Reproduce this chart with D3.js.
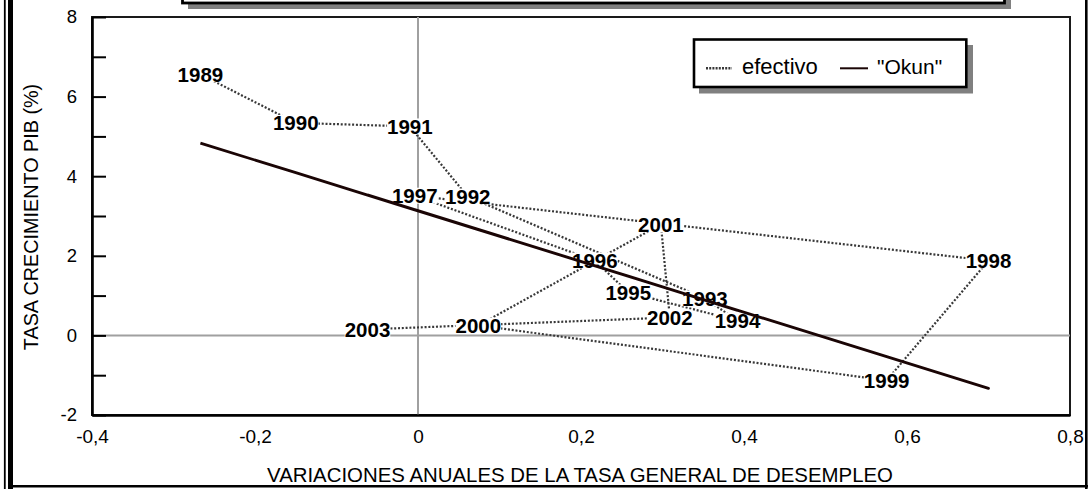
<!DOCTYPE html>
<html><head><meta charset="utf-8">
<script src="https://cdn.jsdelivr.net/npm/d3@7"></script>
<style>
body{margin:0;background:#fff}
svg{display:block}
text{font-family:"Liberation Sans",Arial,sans-serif;fill:#000}
</style>
</head><body>
<svg id="c" width="1089" height="489"></svg>
<script>
// ---- data ----
const years = ["1989","1990","1991","1992","1993","1994","1995","1996","1997","1998","1999","2000","2001","2002","2003"];
const desempleo = [-0.267, -0.150, -0.010, 0.061, 0.352, 0.392, 0.258, 0.217, -0.004, 0.700, 0.575, 0.074, 0.298, 0.309, -0.062];
const pibEfectivo = [6.56, 5.34, 5.25, 3.49, 0.93, 0.37, 1.08, 1.88, 3.51, 1.88, -1.13, 0.25, 2.79, 0.45, 0.15];
const pibOkun = [4.83, 4.09, 3.19, 2.74, 0.89, 0.63, 1.49, 1.75, 3.16, -1.33, -0.53, 2.66, 1.23, 1.16, 3.53];
const xTicks = [-0.4, -0.2, 0, 0.2, 0.4, 0.6, 0.8];
const yTicks = [-2, -1, 0, 1, 2, 3, 4, 5, 6, 7, 8];
const seriesNames = ["efectivo", "\"Okun\""];
const xTitle = "VARIACIONES ANUALES DE LA TASA GENERAL DE DESEMPLEO";
const yTitle = "TASA CRECIMIENTO PIB (%)";

const svg = d3.select("#c");
const L = 92, R = 1070, T = 17, B = 415;
const x = d3.scaleLinear().domain([-0.4, 0.8]).range([L, R]);
const y = d3.scaleLinear().domain([-2, 8]).range([B, T]);

// ---- outer chart frame ----
svg.append("line").attr("x1",4.8).attr("x2",4.8).attr("y1",0).attr("y2",489).attr("stroke","#000").attr("stroke-width",1.8);
svg.append("line").attr("x1",10.5).attr("x2",10.5).attr("y1",0).attr("y2",489).attr("stroke","#000").attr("stroke-width",5);
svg.append("line").attr("x1",8).attr("x2",1088).attr("y1",486.3).attr("y2",486.3).attr("stroke","#000").attr("stroke-width",2.6);
svg.append("line").attr("x1",1086.3).attr("x2",1086.3).attr("y1",0).attr("y2",489).attr("stroke","#000").attr("stroke-width",2.6);

// ---- title box (cut off at top) ----
svg.append("rect").attr("x",188).attr("y",-40).attr("width",823).attr("height",49).attr("fill","#808080");
svg.append("rect").attr("x",182.5).attr("y",-46).attr("width",822).attr("height",49).attr("fill","#fff").attr("stroke","#000").attr("stroke-width",2.8);

// ---- plot area ----
svg.append("rect").attr("x",L).attr("y",T).attr("width",R-L).attr("height",B-T)
  .attr("fill","#fff").attr("stroke","#1a1a1a").attr("stroke-width",2);

// reference lines at 0
svg.append("line").attr("x1",L).attr("x2",R).attr("y1",y(0)).attr("y2",y(0)).attr("stroke","#a0a0a0").attr("stroke-width",2);
svg.append("line").attr("x1",x(0)).attr("x2",x(0)).attr("y1",T).attr("y2",B).attr("stroke","#a0a0a0").attr("stroke-width",2);

// ---- axes ----
const fmtX = v => v === 0 ? "0" : v.toFixed(1).replace(".", ",");
const yAxis = d3.axisLeft(y).tickValues(yTicks).tickSizeInner(-14).tickSizeOuter(0).tickPadding(15)
  .tickFormat(v => v % 2 === 0 ? String(v) : "");
const gy = svg.append("g").attr("transform",`translate(${L},0)`).call(yAxis);
gy.select(".domain").attr("stroke","#000").attr("stroke-width",2.6);
gy.selectAll(".tick line").attr("stroke","#000").attr("stroke-width",2);
gy.selectAll(".tick text").style("font-size","18.5px").attr("fill","#000").attr("font-family",null);

const xAxis = d3.axisBottom(x).tickValues(xTicks).tickSizeInner(0).tickSizeOuter(0).tickPadding(15).tickFormat(fmtX);
const gx = svg.append("g").attr("transform",`translate(0,${B})`).call(xAxis);
gx.select(".domain").attr("stroke","#000").attr("stroke-width",2.6);
gx.selectAll(".tick text").style("font-size","19px").attr("fill","#000").attr("font-family",null);

// axis titles
svg.append("text").attr("x",580).attr("y",482).attr("text-anchor","middle")
  .style("font-size","20.4px").text(xTitle);
svg.append("text").attr("transform","translate(38,217) rotate(-90)").attr("text-anchor","middle")
  .style("font-size","19.8px").text(yTitle);

// ---- data ----
const pts = years.map((yr,i) => ({yr, dx: desempleo[i], ef: pibEfectivo[i], ok: pibOkun[i]}));

const lineEf = d3.line().x(d => x(d.dx)).y(d => y(d.ef));
svg.append("path").datum(pts).attr("d",lineEf).attr("fill","none")
  .attr("stroke","#383838").attr("stroke-width",2.2).attr("stroke-dasharray","2,1.8");

// labels with opaque background
const lg = svg.append("g");
pts.forEach(d => {
  const g = lg.append("g").attr("transform",`translate(${x(d.dx)},${y(d.ef)})`);
  const r = g.append("rect").attr("fill","#fff");
  const t = g.append("text").attr("text-anchor","middle").attr("dy","0.36em")
    .style("font-size","20.5px").style("font-weight","bold").text(d.yr);
  const w = t.node().getComputedTextLength();
  r.attr("x",-w/2).attr("y",-8).attr("width",w).attr("height",16);
});

// Okun line on top
const lineOk = d3.line().x(d => x(d.dx)).y(d => y(d.ok));
svg.append("path").datum(pts).attr("d",lineOk).attr("fill","none")
  .attr("stroke","#1a0505").attr("stroke-width",2.8).attr("stroke-linejoin","round");

// ---- legend ----
const leg = svg.append("g");
leg.append("rect").attr("x",699).attr("y",45).attr("width",274).attr("height",48.5).attr("fill","#808080");
leg.append("rect").attr("x",694).attr("y",39.5).attr("width",272.3).attr("height",47.5)
  .attr("fill","#fff").attr("stroke","#000").attr("stroke-width",2.6);
leg.append("line").attr("x1",706).attr("x2",732).attr("y1",68.3).attr("y2",68.3)
  .attr("stroke","#383838").attr("stroke-width",2.5).attr("stroke-dasharray","2,1.2");
leg.append("text").attr("x",742).attr("y",74).style("font-size","22px").text(seriesNames[0]);
leg.append("line").attr("x1",840).attr("x2",868).attr("y1",68.3).attr("y2",68.3)
  .attr("stroke","#1a0505").attr("stroke-width",2);
leg.append("text").attr("x",877).attr("y",74).style("font-size","21px").text(seriesNames[1]);
</script>
</body></html>
